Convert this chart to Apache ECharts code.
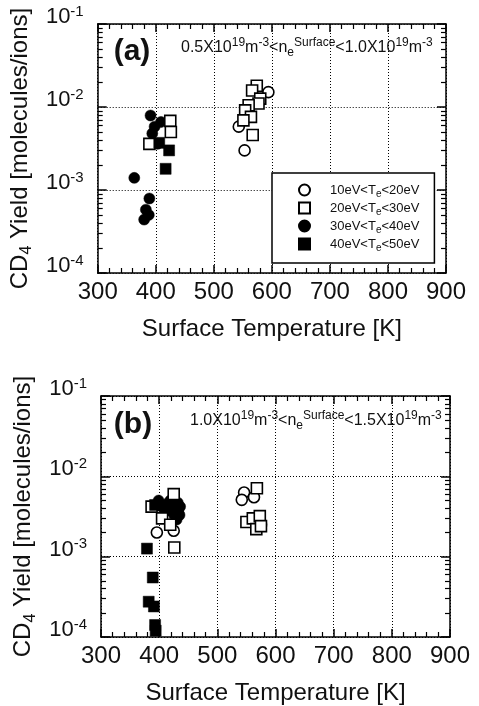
<!DOCTYPE html>
<html>
<head>
<meta charset="utf-8">
<script src="https://cdn.jsdelivr.net/npm/echarts@6/dist/echarts.min.js"></script>
<style>
  html, body { margin: 0; padding: 0; background: #fff; }
  #chart { width: 479px; height: 706px; }
</style>
</head>
<body>
<div id="chart"></div>
<script>
// legend categories (electron temperature ranges)
const seriesNames = ['10eV<Te<20eV', '20eV<Te<30eV', '30eV<Te<40eV', '40eV<Te<50eV'];

// axis ticks
const xTicks = [300, 400, 500, 600, 700, 800, 900];
const yDecades = [1e-4, 1e-3, 1e-2, 1e-1];
const yMinorMult = [2, 3, 4, 5, 6, 7, 8, 9];

// panel (a): 0.5e19 < ne < 1.0e19, [surface temperature K, CD4 yield]
const aOpenCircle = [[594, 0.0151], [543, 0.0058], [553, 0.0030]];
const aOpenSquare = [[574, 0.018], [566, 0.0158], [580, 0.0126], [577, 0.0110], [560, 0.0105], [554, 0.0091],
  [564, 0.0076], [551, 0.0069], [567, 0.0046], [425, 0.0068], [426, 0.0050], [389, 0.0036]];
const aFilledCircle = [[391, 0.0079], [409, 0.0066], [398, 0.0058], [394, 0.0048], [403, 0.0036], [363, 0.0014],
  [389, 0.00079], [383, 0.00058], [388, 0.00050], [380, 0.00044]];
const aFilledSquare = [[423, 0.0030], [417, 0.0018], [406, 0.0037]];

// panel (b): 1.0e19 < ne < 1.5e19
const bOpenCircle = [[546, 0.0063], [542, 0.0051], [563, 0.0055], [396, 0.0020], [425, 0.0021]];
const bOpenSquare = [[568, 0.0071], [550, 0.0027], [561, 0.0030], [573, 0.0032], [567, 0.0022], [575, 0.0024],
  [425, 0.0060], [387, 0.0042], [405, 0.0030], [419, 0.0025], [426, 0.0013]];
const bFilledCircle = [[399, 0.0050], [404, 0.0042], [412, 0.0045], [419, 0.0050], [427, 0.0044], [433, 0.0038],
  [430, 0.0029], [432, 0.0047], [436, 0.0042], [435, 0.0033], [428, 0.0032], [420, 0.0040], [410, 0.0036],
  [425, 0.0035], [576, 0.0025]];
const bFilledSquare = [[393, 0.0044], [427, 0.0035], [431, 0.0040], [379, 0.00126], [389, 0.00055], [382, 0.000275],
  [391, 0.00024], [393, 0.000141], [394, 0.00012]];

const FONT = 'Liberation Sans';
const TICK = '#000';
const yMinor = [];
yDecades.slice(0, 3).forEach(d => yMinorMult.forEach(m => yMinor.push(m * d)));

const myChart = echarts.init(document.getElementById('chart'));

function xAxes(gridIndex) {
  const base = {
    gridIndex: gridIndex, type: 'value', min: 300, max: 900, interval: 100,
    axisLine: { show: true, onZero: false, lineStyle: { color: '#000', width: 1.5 } },
    axisTick: { show: true, inside: true, length: 8, lineStyle: { color: TICK, width: 1.5 } },
    minorTick: { show: true, splitNumber: 5, length: 5, lineStyle: { color: TICK, width: 1.2 } }
  };
  return [
    Object.assign({}, base, {
      position: 'bottom',
      axisLabel: { show: true, fontFamily: FONT, fontSize: 24, color: '#111', margin: 7 },
      splitLine: { show: true, lineStyle: { color: '#000', type: [1, 2], width: 1 } },
      name: 'Surface Temperature [K]', nameLocation: 'middle', nameGap: 44,
      nameTextStyle: { fontFamily: FONT, fontSize: 24, color: '#111' }
    }),
    Object.assign({}, base, {
      position: 'top', axisLabel: { show: false }, splitLine: { show: false }
    })
  ];
}

function yAxes(gridIndex) {
  const base = {
    gridIndex: gridIndex, type: 'log', logBase: 10, min: 1e-4, max: 1e-1,
    axisLine: { show: true, onZero: false, lineStyle: { color: '#000', width: 1.5 } },
    axisTick: { show: true, inside: true, length: 9, customValues: yDecades, lineStyle: { color: TICK, width: 1.5 } },
    axisLabel: { show: false }, splitLine: { show: false }
  };
  const minor = {
    gridIndex: gridIndex, type: 'log', logBase: 10, min: 1e-4, max: 1e-1,
    axisLine: { show: false },
    axisTick: { show: true, inside: true, length: 5, customValues: yMinor, lineStyle: { color: TICK, width: 1.2 } },
    axisLabel: { show: false }, splitLine: { show: false }
  };
  return [
    Object.assign({}, base, {
      position: 'left',
      axisLabel: {
        show: true, margin: 14, customValues: yDecades, padding: [0, 0, 14, 0],
        formatter: v => '{b|10}{s|' + Math.round(Math.log10(v)) + '}',
        rich: {
          b: { fontFamily: FONT, fontSize: 22, color: '#111', lineHeight: 26 },
          s: { fontFamily: FONT, fontSize: 15, color: '#111', lineHeight: 12, verticalAlign: 'top' }
        }
      },
      splitLine: { show: true, lineStyle: { color: '#000', type: [1, 2], width: 1 } },
      name: '{n|CD}{u|4}{n| Yield [molecules/ions]}', nameLocation: 'middle', nameGap: 57,
      nameTextStyle: {
        rich: {
          n: { fontFamily: FONT, fontSize: 24, color: '#111', lineHeight: 30 },
          u: { fontFamily: FONT, fontSize: 16, color: '#111', lineHeight: 14, verticalAlign: 'bottom' }
        }
      }
    }),
    Object.assign({}, base, { position: 'right' }),
    Object.assign({}, minor, { position: 'left' }),
    Object.assign({}, minor, { position: 'right' })
  ];
}

function mk(nameIdx, data, xi, yi, symbol, filled, z) {
  return {
    name: seriesNames[nameIdx], type: 'scatter', xAxisIndex: xi, yAxisIndex: yi,
    data: data, symbol: symbol, symbolSize: 11, z: z,
    itemStyle: filled ? { color: '#000', borderColor: '#000', borderWidth: 0.5, opacity: 1 }
                      : { color: '#fff', borderColor: '#000', borderWidth: 1.6, opacity: 1 },
    emphasis: { disabled: true }
  };
}

function condText(lo, hi) {
  return lo + 'X10{p|19}m{p|-3}<n{d|e}{p|Surface}<' + hi + 'X10{p|19}m{p|-3}';
}
const condRich = {
  p: { fontFamily: FONT, fontSize: 12, lineHeight: 11, verticalAlign: 'top', fill: '#111' },
  d: { fontFamily: FONT, fontSize: 12, lineHeight: 11, verticalAlign: 'bottom', fill: '#111' }
};

const option = {
  animation: false,
  backgroundColor: '#fff',
  grid: [
    { left: 96, top: 24, width: 350, height: 249 },
    { left: 101, top: 396, width: 349, height: 249 }
  ],
  xAxis: [].concat(xAxes(0), xAxes(1)),
  yAxis: [].concat(yAxes(0), yAxes(1)),
  legend: {
    data: seriesNames, orient: 'vertical', left: 272, top: 173,
    backgroundColor: '#fff', borderColor: '#000', borderWidth: 1.5,
    padding: [8, 15, 10, 26], itemGap: 0, itemWidth: 11, itemHeight: 11,
    selectedMode: false,
    formatter: n => n.replace('Te', 'T{e|e}'),
    textStyle: {
      fontFamily: FONT, fontSize: 13, color: '#111', lineHeight: 18, padding: [0, 0, 0, 15],
      rich: { e: { fontFamily: FONT, fontSize: 10, lineHeight: 6, verticalAlign: 'bottom', color: '#111' } }
    }
  },
  graphic: [
    { type: 'text', x: 132, y: 52, style: { text: '(a)', font: 'bold 30px "' + FONT + '"', fill: '#111', align: 'center', verticalAlign: 'middle' } },
    { type: 'text', x: 133, y: 425, style: { text: '(b)', font: 'bold 30px "' + FONT + '"', fill: '#111', align: 'center', verticalAlign: 'middle' } },
    { type: 'text', x: 181, y: 37, style: { text: condText('0.5', '1.0'), fontFamily: FONT, fontSize: 16, lineHeight: 22, fill: '#111', rich: condRich } },
    { type: 'text', x: 190, y: 410, style: { text: condText('1.0', '1.5'), fontFamily: FONT, fontSize: 16, lineHeight: 22, fill: '#111', rich: condRich } }
  ],
  series: [
    mk(2, aFilledCircle, 0, 0, 'circle', true, 2),
    mk(0, aOpenCircle, 0, 0, 'circle', false, 3),
    mk(1, aOpenSquare, 0, 0, 'rect', false, 4),
    mk(3, aFilledSquare, 0, 0, 'rect', true, 5),
    mk(2, bFilledCircle, 2, 4, 'circle', true, 2),
    mk(0, bOpenCircle, 2, 4, 'circle', false, 3),
    mk(1, bOpenSquare, 2, 4, 'rect', false, 4),
    mk(3, bFilledSquare, 2, 4, 'rect', true, 5)
  ]
};
myChart.setOption(option);
</script>
</body>
</html>
